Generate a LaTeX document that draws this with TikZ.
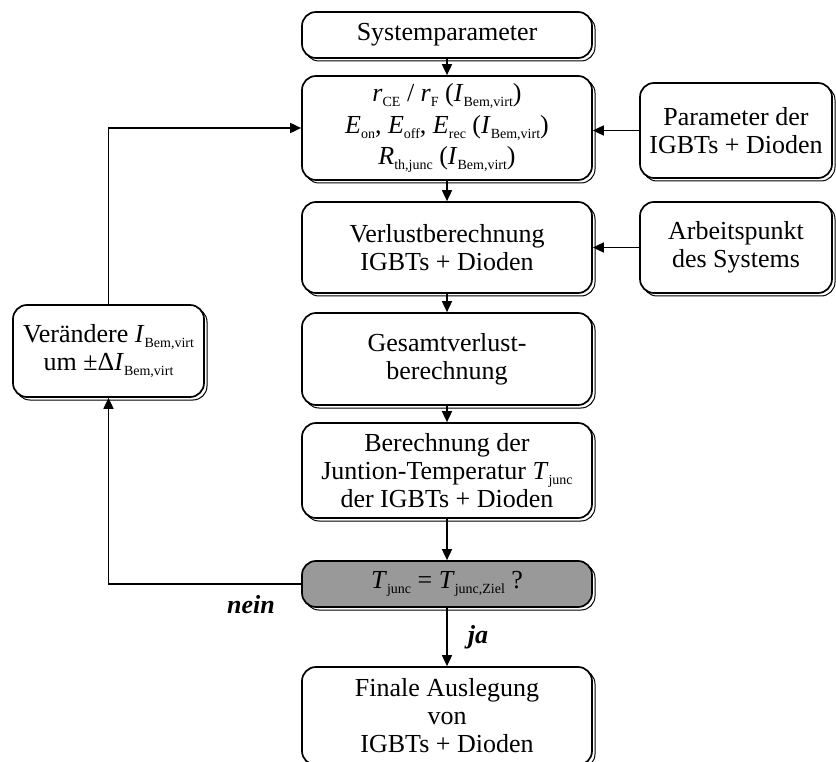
\documentclass[tikz,border=0pt]{standalone}
\usepackage{fontspec}
\setmainfont{Liberation Serif}
\usetikzlibrary{arrows.meta,shadows}
\newcommand{\grs}[2]{\textit{#1}\raisebox{-5pt}{\fontsize{14}{14}\selectfont #2}}

\begin{document}
\begin{tikzpicture}[x=1pt, y=-1pt,
    box/.style={draw, line width=1.7pt, rounded corners=14pt, fill=white, align=center,
        inner sep=0pt, font=\fontsize{26}{28}\selectfont,
        general shadow={draw, fill=white, line width=1pt, shadow xshift=3pt, shadow yshift=-3pt}},
    arr/.style={line width=1.7pt, -{Triangle[length=11pt, width=10pt]}},
    lbl/.style={inner sep=0pt, font=\fontsize{26}{28}\selectfont\bfseries\itshape}]
    \useasboundingbox (0,0) rectangle (836,762);
    \clip (0,0) rectangle (836,762);
    \node[box, minimum width=290pt, minimum height=46pt] (sys) at (447,35) {Systemparameter};
    \node[box, minimum width=290pt, minimum height=104pt] (param) at (447,128)
        {\grs{r}{CE} / \grs{r}{F} (\grs{I}{Bem,virt})\\[4pt]
         \grs{E}{on}, \grs{E}{off}, \grs{E}{rec} (\grs{I}{Bem,virt})\\[3pt]
         \grs{R}{th,junc} (\grs{I}{Bem,virt})};
    \node[box, minimum width=290pt, minimum height=91pt] (verlust) at (447,247.5)
        {Verlustberechnung\\IGBTs + Dioden};
    \node[box, minimum width=290pt, minimum height=92pt] (gesamt) at (447,359)
        {Gesamtverlust-\\berechnung};
    \node[box, minimum width=290pt, minimum height=95pt] (tjunc) at (447,470.5)
        {Berechnung der\\Juntion-Temperatur \grs{T}{junc}\\der IGBTs + Dioden};
    \node[box, fill=black!40, minimum width=290pt, minimum height=46pt] (check) at (447,584)
        {\grs{T}{junc} = \grs{T}{junc,Ziel} ?};
    \node[box, minimum width=290pt, minimum height=98pt] (final) at (447,716)
        {Finale Auslegung\\von\\IGBTs + Dioden};
    \node[box, minimum width=192pt, minimum height=95pt] (igbt) at (736,130.5)
        {Parameter der\\IGBTs + Dioden};
    \node[box, minimum width=192pt, minimum height=91pt] (arbeit) at (736,247.5)
        {Arbeitspunkt\\des Systems};
    \node[box, minimum width=191pt, minimum height=92pt] (aendern) at (108.5,351)
        {Verändere \grs{I}{Bem,virt}\\um ±Δ\grs{I}{Bem,virt}};

    \foreach \a/\b in {sys/param, param/verlust, verlust/gesamt, gesamt/tjunc, tjunc/check} {
        \draw[arr] (\a) -- (\b);
    }
    \draw[arr] (check) -- node[lbl, right=20pt] {ja} (final);
    \draw[arr] (igbt.west) -- (igbt.west -| param.east);
    \draw[arr] (arbeit.west) -- (arbeit.west -| verlust.east);
    \draw[arr] (check.west) -| node[lbl, pos=0.13, below=11pt] {nein} (aendern.south);
    \draw[arr] (aendern.north) |- (param.west);
\end{tikzpicture}
\end{document}
